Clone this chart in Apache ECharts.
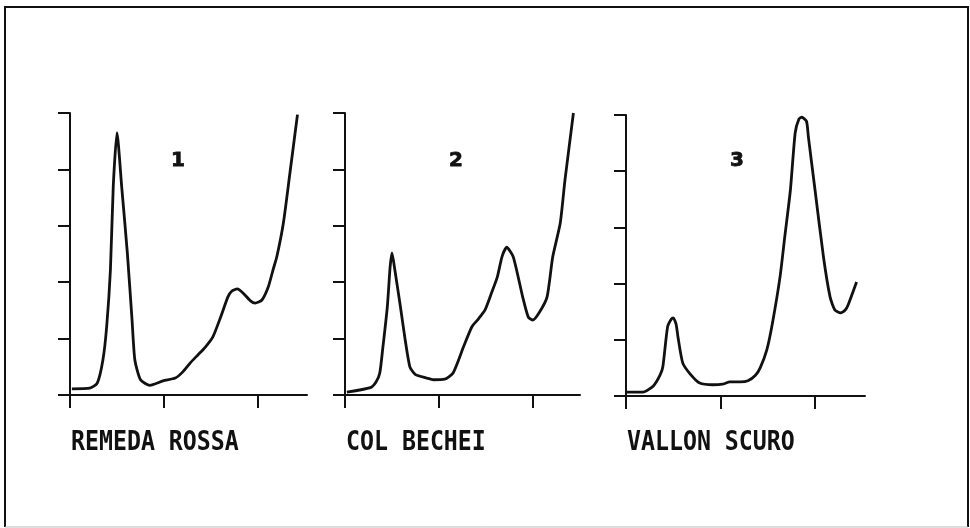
<!DOCTYPE html>
<html>
<head>
<meta charset="utf-8">
<script src="https://cdn.jsdelivr.net/npm/echarts@6/dist/echarts.min.js"></script>
<style>html,body{margin:0;padding:0;background:#fff}#c{width:970px;height:528px}</style>
</head>
<body>
<div id="c"></div>
<script>
// Panel titles and numbers
const panelNames = ['REMEDA ROSSA', 'COL BECHEI', 'VALLON SCURO'];
const panelNumbers = ['1', '2', '3'];
const xTickValues = [0, 1, 2];
const yTickValues = [0, 1, 2, 3, 4, 5];

// Curves as [x, y] in axis units
const remedaRossa = [
  [0.02,0.11],[0.21,0.12],[0.29,0.21],[0.35,0.62],[0.39,1.21],[0.43,2.22],[0.46,3.69],[0.50,4.65],
  [0.55,3.69],[0.61,2.52],[0.66,1.33],[0.69,0.62],[0.75,0.27],[0.85,0.17],[0.99,0.25],
  [1.12,0.30],[1.20,0.41],[1.28,0.57],[1.36,0.71],[1.44,0.85],[1.52,1.03],[1.60,1.37],[1.68,1.74],
  [1.72,1.84],[1.78,1.88],[1.84,1.81],[1.92,1.67],[1.97,1.63],[2.04,1.68],[2.11,1.92],[2.16,2.22],
  [2.20,2.45],[2.27,3.05],[2.34,3.94],[2.42,4.97]
];
const colBechei = [
  [0.02,0.05],[0.27,0.13],[0.33,0.23],[0.37,0.39],[0.40,0.80],[0.45,1.56],[0.48,2.27],[0.50,2.52],
  [0.53,2.22],[0.59,1.56],[0.64,0.98],[0.69,0.50],[0.75,0.36],[0.87,0.30],[0.94,0.27],[1.06,0.28],[1.15,0.39],
  [1.26,0.85],[1.35,1.21],[1.42,1.35],[1.49,1.51],[1.55,1.77],[1.62,2.09],[1.67,2.45],[1.72,2.62],
  [1.79,2.45],[1.89,1.74],[1.95,1.38],[2.00,1.33],[2.07,1.47],[2.15,1.74],[2.21,2.45],[2.29,3.05],
  [2.34,3.81],[2.43,5.00]
];
const vallonScuro = [
  [0.01,0.07],[0.18,0.07],[0.29,0.18],[0.36,0.37],[0.39,0.52],[0.44,1.23],[0.48,1.37],[0.50,1.39],
  [0.53,1.28],[0.55,1.05],[0.60,0.59],[0.68,0.39],[0.78,0.23],[0.92,0.20],[1.02,0.21],[1.10,0.25],
  [1.21,0.25],[1.29,0.27],[1.37,0.37],[1.42,0.50],[1.49,0.82],[1.55,1.30],[1.63,2.12],[1.68,2.83],
  [1.74,3.67],[1.79,4.68],[1.83,4.93],[1.86,4.96],[1.91,4.89],[1.93,4.61],[2.00,3.67],[2.09,2.47],
  [2.16,1.76],[2.21,1.53],[2.27,1.48],[2.32,1.53],[2.35,1.62],[2.44,2.03]
];
const curves = [remedaRossa, colBechei, vallonScuro];

const ink = '#111';
const grids = [
  {left: 70, top: 113, width: 237, height: 282},
  {left: 345, top: 113, width: 235, height: 282},
  {left: 626, top: 115, width: 239, height: 281}
];
const xMax = [237/94, 235/94, 239/94.5];

const chart = echarts.init(document.getElementById('c'));
const option = {
  animation: false,
  backgroundColor: '#fff',
  grid: grids.map(g => Object.assign({containLabel: false}, g)),
  xAxis: grids.map((g, i) => ({
    type: 'value', gridIndex: i, min: 0, max: xMax[i], interval: 1,
    axisLine: {show: true, lineStyle: {color: ink, width: 2}},
    axisTick: {show: true, length: 13, lineStyle: {color: ink, width: 2}, customValues: xTickValues},
    axisLabel: {show: false},
    splitLine: {show: false}
  })),
  yAxis: grids.map((g, i) => ({
    type: 'value', gridIndex: i, min: 0, max: 5, interval: 1,
    axisLine: {show: true, lineStyle: {color: ink, width: 2}},
    axisTick: {show: true, length: 12, lineStyle: {color: ink, width: 2}, customValues: yTickValues},
    axisLabel: {show: false},
    splitLine: {show: false}
  })),
  series: curves.map((d, i) => ({
    type: 'line', xAxisIndex: i, yAxisIndex: i, data: d,
    smooth: 0.2, showSymbol: false, symbol: 'none',
    lineStyle: {color: ink, width: 2.8}
  })),
  graphic: [
    {type: 'polyline', silent: true, shape: {points: [[5,527],[5,7],[968,7],[968,527]]},
     style: {stroke: ink, lineWidth: 2, fill: null}},
    {type: 'line', silent: true, shape: {x1: 5, y1: 527, x2: 968, y2: 527},
     style: {stroke: '#bbb', lineWidth: 1}},
    ...panelNames.map((t, i) => ({
      type: 'text', silent: true, x: [71, 346, 627][i], y: 443, scaleX: 0.86,
      style: {text: t, font: 'bold 27px "DejaVu Sans Mono"', fill: ink, textVerticalAlign: 'middle', textAlign: 'left'}
    })),
    ...panelNumbers.map((t, i) => ({
      type: 'text', silent: true, x: [178, 456, 737][i], y: 161,
      style: {text: t, font: 'bold 20px "DejaVu Sans"', fill: ink, textVerticalAlign: 'middle', textAlign: 'center',
              stroke: ink, lineWidth: 0.8}
    }))
  ]
};
chart.setOption(option);
</script>
</body>
</html>
